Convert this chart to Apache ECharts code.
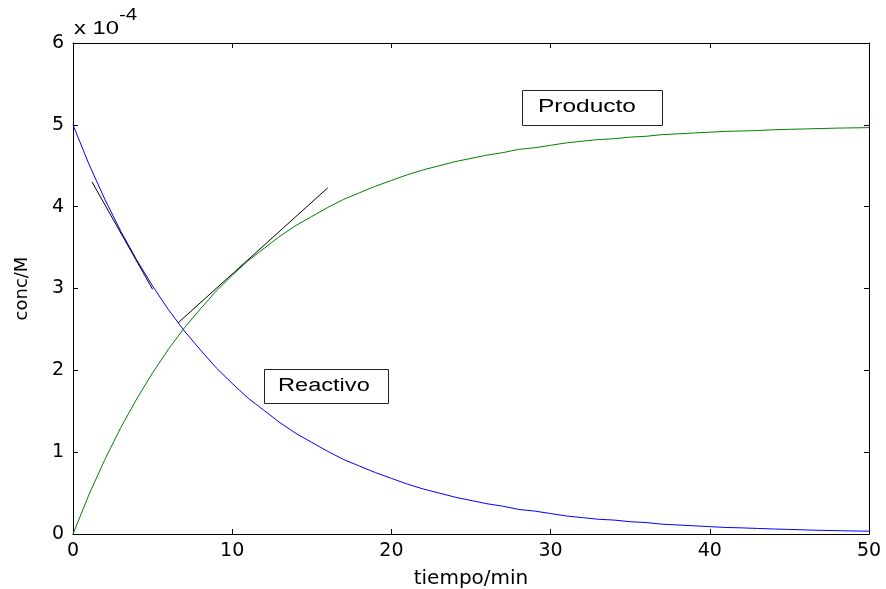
<!DOCTYPE html>
<html>
<head>
<meta charset="utf-8">
<script src="https://cdn.jsdelivr.net/npm/echarts@6/dist/echarts.min.js"></script>
<style>
html,body{margin:0;padding:0;background:#fff;}
#c{width:886px;height:589px;}
</style>
</head>
<body>
<div id="c"></div>
<script>
// tiempo/min
var tiempo = [0,1,2,3,4,5,6,7,8,9,10,11,12,13,14,15,16,17,18,19,20,21,22,23,24,25,
  26,27,28,29,30,31,32,33,34,35,36,37,38,39,40,41,42,43,44,45,46,47,48,49,50];
// conc (x 10^-4 M)
var reactivo = [5.00,4.52,4.09,3.70,3.35,3.03,2.74,2.48,2.25,2.03,1.84,1.66,1.51,1.36,1.23,1.12,
  1.01,0.91,0.83,0.75,0.68,0.61,0.55,0.50,0.45,0.41,0.37,0.34,0.30,0.28,0.25,0.22,0.20,0.18,
  0.17,0.15,0.14,0.12,0.11,0.10,0.09,0.08,0.075,0.068,0.061,0.056,0.050,0.045,0.041,0.037,0.034];
var producto = [0,0.48,0.91,1.30,1.65,1.97,2.26,2.52,2.75,2.97,3.16,3.34,3.49,3.64,3.77,3.88,
  3.99,4.09,4.17,4.25,4.32,4.39,4.45,4.50,4.55,4.59,4.63,4.66,4.70,4.72,4.75,4.78,4.80,4.82,
  4.83,4.85,4.86,4.88,4.89,4.90,4.91,4.92,4.925,4.93,4.94,4.945,4.95,4.955,4.96,4.963,4.966];
// tangentes
var tangReactivo = [[1.2,4.30],[5.0,2.99]];
var tangProducto = [[6.6,2.58],[16.0,4.23]];

function pares(xs, ys){
  var out = [];
  for (var i = 0; i < xs.length; i++) out.push([xs[i], ys[i]]);
  return out;
}

var font = 'Liberation Sans, Arial, sans-serif';
var fontAncha = 'DejaVu Sans, sans-serif';
var tick = {show:true, inside:true, length:5, lineStyle:{color:'#000'}};
var line = {show:true, onZero:false, lineStyle:{color:'#000', width:1}};

var myChart = echarts.init(document.getElementById('c'));
var option = {
  animation:false,
  backgroundColor:'#fff',
  grid:{left:73, right:17, top:43, bottom:55, containLabel:false, outerBoundsMode:'none'},
  xAxis:[{
    type:'value', min:0, max:50, interval:10,
    axisLine:line, axisTick:tick, splitLine:{show:false},
    axisLabel:{color:'#000', fontSize:19, fontFamily:fontAncha, margin:8},
    name:'tiempo/min', nameLocation:'middle', nameGap:35,
    nameTextStyle:{color:'#000', fontSize:20, fontFamily:fontAncha}
  },{
    type:'value', min:0, max:50, interval:10, position:'top',
    axisLine:line, axisTick:tick, splitLine:{show:false}, axisLabel:{show:false}
  }],
  yAxis:[{
    type:'value', min:0, max:6, interval:1,
    axisLine:line, axisTick:tick, splitLine:{show:false},
    axisLabel:{color:'#000', fontSize:19, fontFamily:fontAncha, margin:9},
    name:'conc/M', nameLocation:'middle', nameGap:42,
    nameTextStyle:{color:'#000', fontSize:18, fontFamily:fontAncha}
  },{
    type:'value', min:0, max:6, interval:1, position:'right',
    axisLine:line, axisTick:tick, splitLine:{show:false}, axisLabel:{show:false}
  }],
  series:[
    {type:'line', data:pares(tiempo, reactivo), showSymbol:false,
     lineStyle:{color:'#0000ff', width:1}},
    {type:'line', data:pares(tiempo, producto), showSymbol:false,
     lineStyle:{color:'#008000', width:1}},
    {type:'line', data:tangReactivo, showSymbol:false,
     lineStyle:{color:'#000', width:1}},
    {type:'line', data:tangProducto, showSymbol:false,
     lineStyle:{color:'#000', width:1}}
  ],
  graphic:[
    {type:'text', x:74, y:19, scaleX:1.25, style:{text:'x 10', font:'19px ' + font, fill:'#000'}},
    {type:'text', x:119, y:7, scaleX:1.2, style:{text:'-4', font:'17px ' + font, fill:'#000'}},
    {type:'rect', shape:{x:522.5, y:90.5, width:140, height:35},
     style:{fill:'#fff', stroke:'#222', lineWidth:1}},
    {type:'text', x:538, y:98, scaleX:1.36, style:{text:'Producto', font:'18px ' + font, fill:'#000'}},
    {type:'rect', shape:{x:264.5, y:369.5, width:124, height:34},
     style:{fill:'#fff', stroke:'#222', lineWidth:1}},
    {type:'text', x:278, y:377, scaleX:1.31, style:{text:'Reactivo', font:'18px ' + font, fill:'#000'}}
  ]
};
myChart.setOption(option);
</script>
</body>
</html>
